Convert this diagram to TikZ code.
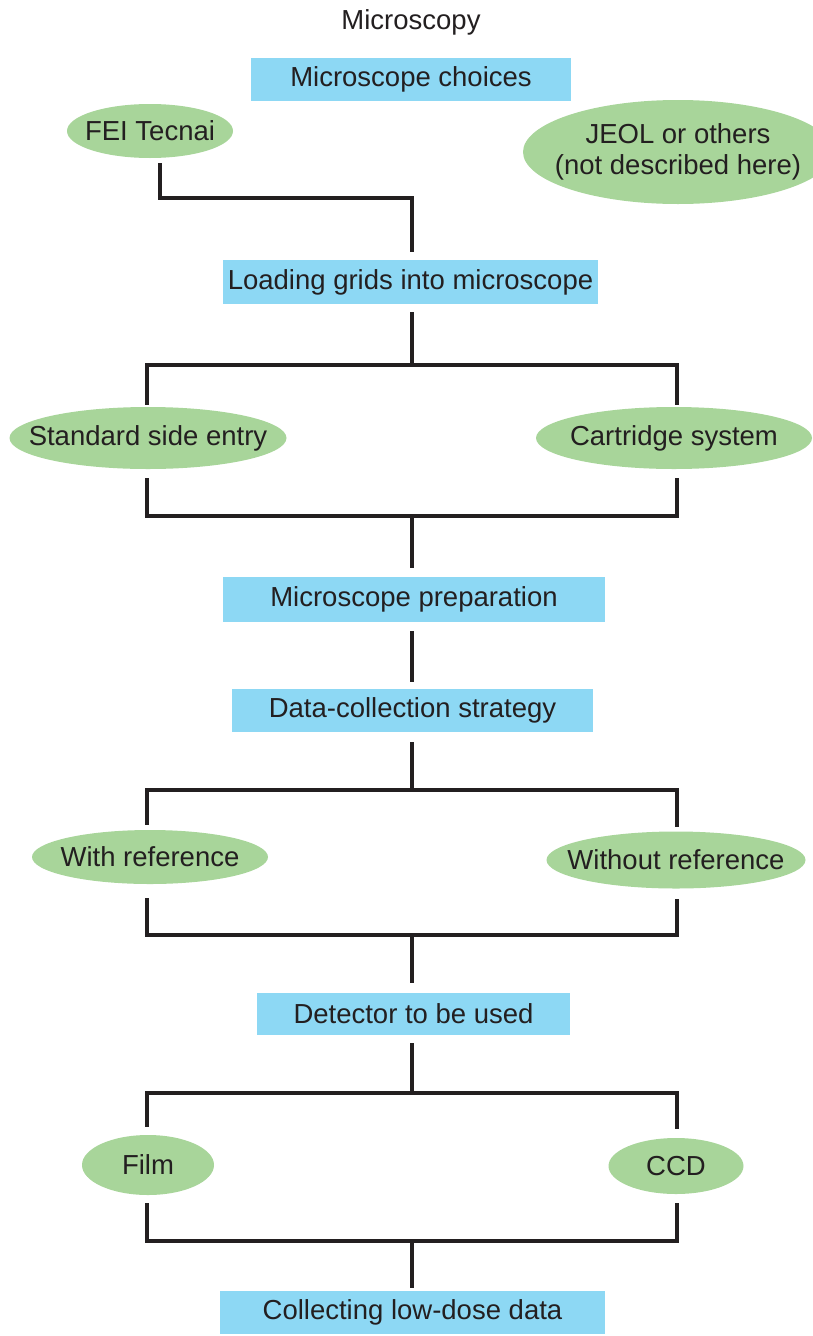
\documentclass[tikz,border=0pt]{standalone}
\usepackage{fontspec}
\setmainfont{Liberation Sans}
\usepackage{xcolor}
\definecolor{mlsky}{RGB}{141,216,244}
\definecolor{mlleaf}{RGB}{168,213,154}
\definecolor{mlink}{RGB}{35,31,32}
\usetikzlibrary{positioning,shapes.geometric,calc}

\begin{document}
\begin{tikzpicture}[x=1pt,y=1pt,
    stage/.style={fill=mlsky,inner sep=0pt,minimum height=43pt,text=mlink,
                  font=\fontsize{27.5}{31}\selectfont},
    choice/.style={ellipse,fill=mlleaf,inner sep=0pt},
    every label/.style={text=mlink,align=center,inner sep=0pt,
                        font=\fontsize{27.5}{31}\selectfont},
    link/.style={draw=mlink,line width=3.4pt}]
  \useasboundingbox (0,0) rectangle (812,-1336);
  %% Title
  \node[text=mlink,font=\fontsize{27.5}{31}\selectfont] (title) at (411,-22) {Microscopy};
  %% Steps
  \node[stage,minimum width=320pt] (choices) at (411,-79.5) {Microscope choices};
  \node[stage,minimum width=375pt,minimum height=44pt] (load) at (410.5,-282) {Loading grids into microscope};
  \node[stage,minimum width=382pt,minimum height=45pt] (prep) at (414,-599.5) {Microscope preparation};
  \node[stage,minimum width=361pt] (strat) at (412.5,-710.5) {Data-collection strategy};
  \node[stage,minimum width=313pt,minimum height=42pt] (det) at (413.5,-1014) {Detector to be used};
  \node[stage,minimum width=385pt] (collect) at (412.5,-1312.5) {Collecting low-dose data};
  %% Options (ellipse of fixed size, text as centred label)
  \node[choice,minimum width=166pt,minimum height=54pt,label=center:FEI Tecnai] (fei) at (150,-131) {};
  \node[choice,minimum width=310pt,minimum height=104pt,
        label={center:{JEOL or others\\(not described here)}}] (jeol) at (678,-152) {};
  \node[choice,minimum width=277pt,minimum height=62pt,label=center:Standard side entry] (side) at (148,-438) {};
  \node[choice,minimum width=276pt,minimum height=62pt,label=center:Cartridge system] (cart) at (674,-438) {};
  \node[choice,minimum width=236pt,minimum height=54pt,label=center:With reference] (withref) at (150,-857) {};
  \node[choice,minimum width=259pt,minimum height=57pt,label=center:Without reference] (noref) at (676,-860) {};
  \node[choice,minimum width=132pt,minimum height=60pt,label=center:Film] (film) at (148,-1165) {};
  \node[choice,minimum width=135pt,minimum height=56pt,label=center:CCD] (ccd) at (676,-1166) {};
  %% Bus points
  \coordinate (b0) at (412,-198);
  \coordinate (s1) at (412,-365);
  \coordinate (j1) at (412,-516);
  \coordinate (s2) at (412,-790);
  \coordinate (j2) at (412,-935);
  \coordinate (s3) at (412,-1093);
  \coordinate (j3) at (412,-1241);
  %% Connectors
  \draw[link,shorten >=8pt] ([xshift=10pt,yshift=-5pt]fei.south) |- (b0) -- (b0 |- load.north);
  \draw[link,shorten <=8pt] (s1 |- load.south) -- (s1);
  \draw[link] ([xshift=-1pt,yshift=2pt]side.north) |- (s1) -| ([xshift=3pt,yshift=2pt]cart.north);
  \draw[link] ([xshift=-1pt,yshift=-9pt]side.south) |- (j1) -| ([xshift=3pt,yshift=-9pt]cart.south);
  \draw[link,shorten >=9pt] (j1) -- (j1 |- prep.north);
  \draw[link,shorten <=9pt,shorten >=7pt] (j1 |- prep.south) -- (j1 |- strat.north);
  \draw[link,shorten <=10pt] (s2 |- strat.south) -- (s2);
  \draw[link] ([xshift=-3pt,yshift=5pt]withref.north) |- (s2) -| ([xshift=1pt,yshift=4pt]noref.north);
  \draw[link] ([xshift=-3pt,yshift=-14pt]withref.south) |- (j2) -| ([xshift=1pt,yshift=-10pt]noref.south);
  \draw[link,shorten >=10pt] (j2) -- (j2 |- det.north);
  \draw[link,shorten <=8pt] (s3 |- det.south) -- (s3);
  \draw[link] ([xshift=-1pt,yshift=8pt]film.north) |- (s3) -| ([xshift=1pt,yshift=9pt]ccd.north);
  \draw[link] ([xshift=-1pt,yshift=-8pt]film.south) |- (j3) -| ([xshift=1pt,yshift=-9pt]ccd.south);
  \draw[link,shorten >=3pt] (j3) -- (j3 |- collect.north);
\end{tikzpicture}
\end{document}
